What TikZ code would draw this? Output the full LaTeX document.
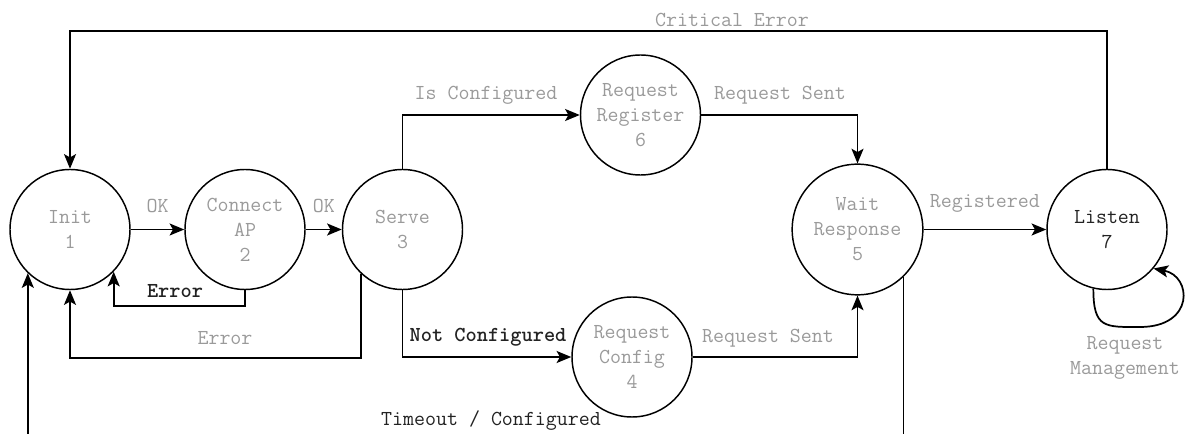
\documentclass[tikz,border=0pt]{standalone}
\usepackage{fontspec}
\usetikzlibrary{arrows.meta,calc}
\definecolor{lbl}{HTML}{9A9A9A}
\definecolor{dark}{HTML}{222222}
\begin{document}
\begin{tikzpicture}[x=0.75pt,y=-0.75pt,
  every node/.style={font=\ttfamily\fontsize{16}{18.7}\selectfont},
  state/.style={circle,draw=black,line width=1.1pt,minimum size=90pt,inner sep=0pt,align=center,text=lbl},
  bigstate/.style={state,minimum size=98pt},
  edge/.style={draw=black,line width=1.3pt,-{Stealth[length=11pt,width=9pt,inset=2.5pt]}},
  glabel/.style={text=lbl,inner sep=0pt},
  dlabel/.style={text=dark,inner sep=0pt},
  blabel/.style={text=dark,inner sep=0pt,font=\ttfamily\bfseries\fontsize{16}{18.7}\selectfont}]
\useasboundingbox (0,0) rectangle (1189,434);
\clip (0,0) rectangle (1189,434);

\node[state] (n1) at (70,229.5) {Init\\1};
\node[state] (n2) at (245,229.5) {Connect\\AP\\2};
\node[state] (n3) at (402.5,229.5) {Serve\\3};
\node[state] (n6) at (640.5,115) {Request\\Register\\6};
\node[state] (n4) at (632,357) {Request\\Config\\4};
\node[bigstate] (n5) at (857.5,229.5) {Wait\\Response\\5};
\node[state,text=dark] (n7) at (1107,229.5) {Listen\\7};

% edges
\draw[edge] (n1) -- (n2) node[glabel,midway,above=12pt] {OK};
\draw[edge] (n2) -- (n3) node[glabel,midway,above=12pt] {OK};
\draw[edge] (n2.south) -- ++(0,16) -| (n1.-44);
\node[blabel] (lerr1) at (175,291) {Error};
\draw[edge] (n3.-133) -- ++(0,84) -| (n1.south);
\node[glabel] (lerr2) at (225,338) {Error};
\draw[edge] (n3.north) |- (n6.west);
\node[glabel] (lisc) at (486,95) {Is Configured};
\draw[edge] (n3.south) |- (n4.west);
\node[blabel] (lnc) at (488,337) {Not Configured};
\draw[edge] (n6.east) -| (n5.north);
\node[glabel] (lrs1) at (780,95) {Request Sent};
\draw[edge] (n4.east) -| (n5.south);
\node[glabel] (lrs2) at (768,338) {Request Sent};
\draw[edge] (n5) -- (n7) node[glabel,midway,above=12pt] {Registered};
\draw[edge] (n7.north) -- ++(0,-138) -| (n1.north);
\node[glabel] (lce) at (732,20) {Critical Error};
\draw[edge] (n5.-46) -- ++(0,200) -| (n1.-134);
\node[dlabel] (lto) at (491,421) {Timeout / Configured};
\draw[edge] (n7.-103) .. controls +(0,40) and (1105,327) .. (1140,327)
  .. controls (1195,327) and (1192,276) .. (n7.-40);
\node[glabel,align=center] (lrm) at (1125,358) {Request\\Management};
\end{tikzpicture}
\end{document}
